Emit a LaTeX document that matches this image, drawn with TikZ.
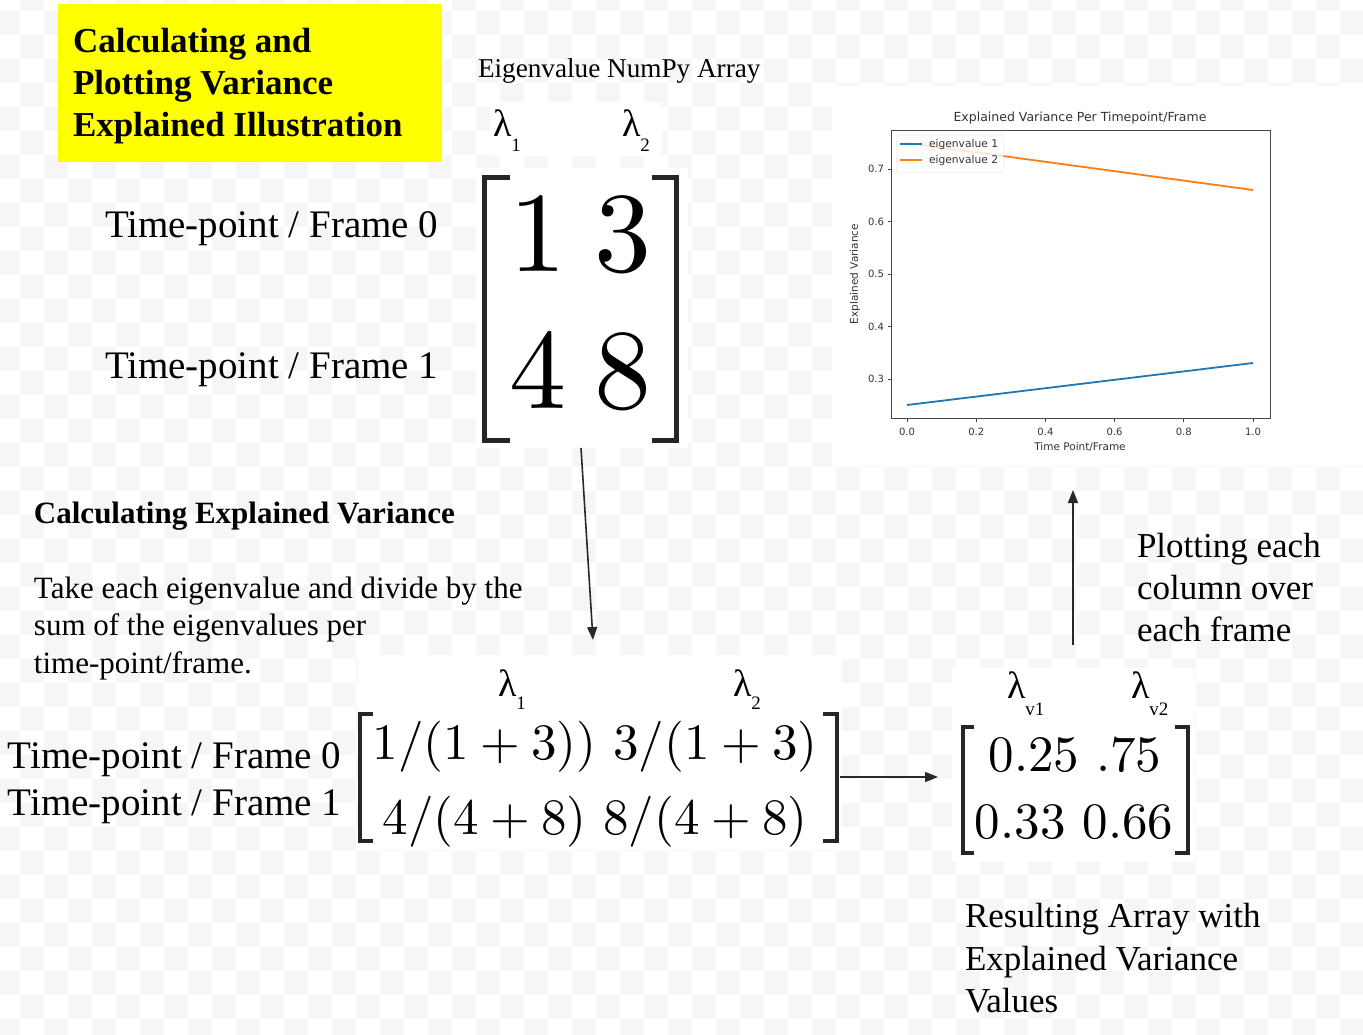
\documentclass[tikz,border=0pt]{standalone}
\usepackage{fontspec}
\newfontfamily\tnr{Liberation Serif}
\newfontfamily\dvs{DejaVu Sans}
\newfontfamily\cmten{lmroman10-regular.otf}
\usetikzlibrary{arrows.meta}
\definecolor{chk}{RGB}{246,246,246}
\definecolor{ttlyellow}{RGB}{255,255,0}
\definecolor{mplblue}{RGB}{31,119,180}
\definecolor{mplorange}{RGB}{255,127,14}
\definecolor{arrowgray}{RGB}{40,40,40}
\definecolor{axgray}{RGB}{70,70,70}
\newcommand\fs[1]{\fontsize{#1}{#1}\selectfont}
\newcommand\lamsub[2]{\tnr\fs{38}λ\raisebox{#1}{\fs{19}#2}}
\begin{document}
\begin{tikzpicture}[x=1pt,y=-1pt,
  txt/.style={inner sep=0pt, outer sep=0pt, anchor=base west, font=\tnr},
  mtx/.style={inner sep=0pt, outer sep=0pt, anchor=base},
  brk/.style={line width=5pt, line cap=butt, line join=miter, black!85},
  brks/.style={line width=4pt, line cap=butt, line join=miter, black!85},
  conn/.style={line width=1.6pt, arrowgray, -{Triangle[length=13pt,width=10pt]}},
  plt/.style={inner sep=0pt, outer sep=0pt, font=\dvs\fs{10}, text=black!80},
  pline/.style={line width=1.8pt, line cap=butt, opacity=1},
  whitebg/.style={fill=white}]
\useasboundingbox (0,0) rectangle (1363,1035);
\begin{scope}
\clip (0,0) rectangle (1363,1035);
\fill[white] (0,0) rectangle (1363,1035);
\foreach \i in {0,...,57}{
  \pgfmathtruncatemacro\ja{mod(\i+1,2)}
  \pgfmathtruncatemacro\jb{\ja+2}
  \foreach \j in {\ja,\jb,...,44}{
    \fill[chk] ({-4+24*\i},{-13+24*\j}) rectangle ++(24,24);
  }
}
\end{scope}
% white backgrounds of pasted images
\fill[whitebg] (832,86) rectangle (1363,466);
\fill[whitebg] (476,168) rectangle (688,448);
\fill[whitebg] (490,102) rectangle (662,156);
\fill[whitebg] (358,655) rectangle (842,850);
\fill[whitebg] (952,668) rectangle (1195,862);

% title
\node[fill=ttlyellow, minimum width=384pt, minimum height=158pt, anchor=north west, inner sep=0pt] (titlebox) at (58,4) {};
\node[txt, font=\tnr\bfseries\fs{35}] (title1) at (73,53) {Calculating and};
\node[txt, font=\tnr\bfseries\fs{35}] (title2) at (73,95) {Plotting Variance};
\node[txt, font=\tnr\bfseries\fs{35}] (title3) at (73,137) {Explained Illustration};

% eigenvalue array
\node[txt, font=\tnr\fs{27.2}] (eighead) at (478,78) {Eigenvalue NumPy Array};
\node[txt] (l1top) at (493,137) {\lamsub{-15pt}{1}};
\node[txt] (l2top) at (622,137) {\lamsub{-15pt}{2}};
\node[txt, font=\tnr\fs{39}] (tf0) at (105,238) {Time-point / Frame 0};
\node[txt, font=\tnr\fs{39}] (tf1) at (105,378) {Time-point / Frame 1};
\draw[brk] (510,177.5) -- (484,177.5) -- (484,440) -- (510,440);
\draw[brk] (652,177.5) -- (676,177.5) -- (676,440) -- (652,440);
\node[mtx, font=\cmten\fs{114}] (m11) at (538,272) {1};
\node[mtx, font=\cmten\fs{114}] (m12) at (623,272) {3};
\node[mtx, font=\cmten\fs{114}] (m21) at (538,408) {4};
\node[mtx, font=\cmten\fs{114}] (m22) at (623,408) {8};

% explanation
\node[txt, font=\tnr\bfseries\fs{31}] (calchead) at (34,523) {Calculating Explained Variance};
\node[txt, font=\tnr\fs{31}] (exp1) at (34,598) {Take each eigenvalue and divide by the};
\node[txt, font=\tnr\fs{31}] (exp2) at (34,635.5) {sum of the eigenvalues per};
\node[txt, font=\tnr\fs{31}] (exp3) at (34,673) {time-point/frame.};

% fraction matrix
\node[txt] (l1mid) at (498,696) {\lamsub{-13pt}{1}};
\node[txt] (l2mid) at (733,696) {\lamsub{-13pt}{2}};
\node[txt, font=\tnr\fs{39}] (tf0b) at (8,768) {Time-point / Frame 0};
\node[txt, font=\tnr\fs{39}] (tf1b) at (8,815) {Time-point / Frame 1};
\draw[brks] (373,714) -- (359.5,714) -- (359.5,841) -- (373,841);
\draw[brks] (823,714) -- (836.5,714) -- (836.5,841) -- (823,841);
\node[mtx, font=\cmten\fs{51}] (frow1) at (595,759) {1/(1\hspace{0.222em}+\hspace{0.222em}3)) 3/(1\hspace{0.222em}+\hspace{0.222em}3)};
\node[mtx, font=\cmten\fs{51}] (frow2) at (595,834) {4/(4\hspace{0.222em}+\hspace{0.222em}8) 8/(4\hspace{0.222em}+\hspace{0.222em}8)};

% result matrix
\node[txt] (lv1) at (1007,698) {\lamsub{-17pt}{v1}};
\node[txt] (lv2) at (1131,698) {\lamsub{-17pt}{v2}};
\draw[brks] (974,727) -- (962.5,727) -- (962.5,853) -- (974,853);
\draw[brks] (1175,727) -- (1187.5,727) -- (1187.5,853) -- (1175,853);
\node[mtx, font=\cmten\fs{51}] (rrow1) at (1075,771) {0.25 .75};
\node[mtx, font=\cmten\fs{51}] (rrow2) at (1074,838) {0.33 0.66};
\node[txt, font=\tnr\fs{35}] (res1) at (965,927) {Resulting Array with};
\node[txt, font=\tnr\fs{35}] (res2) at (965,970) {Explained Variance};
\node[txt, font=\tnr\fs{35}] (res3) at (965,1012) {Values};

% plotting label
\node[txt, font=\tnr\fs{35}] (plt1) at (1137,557) {Plotting each};
\node[txt, font=\tnr\fs{35}] (plt2) at (1137,599) {column over};
\node[txt, font=\tnr\fs{35}] (plt3) at (1137,641) {each frame};

% plot
\draw[pline, mplblue] (907,405) -- (1253,363);
\draw[pline, mplorange] (907,143) -- (1253,190);
\node[draw=black!12, fill=white, fill opacity=0.8, rounded corners=2pt, anchor=north west, minimum width=107pt, minimum height=37pt, inner sep=0pt] (legend) at (896,135) {};
\draw[pline, draw=mplblue] (900,144) -- (922,144);
\draw[pline, draw=mplorange] (900,160) -- (922,160);
\node[plt, anchor=base west, font=\dvs\fs{10.7}] (leg1) at (929,147.5) {eigenvalue 1};
\node[plt, anchor=base west, font=\dvs\fs{10.7}] (leg2) at (929,164) {eigenvalue 2};
\draw[axgray, line width=0.9pt] (891,130) rectangle (1270,418);
\foreach \t/\lab in {0/0.0,1/0.2,2/0.4,3/0.6,4/0.8,5/1.0}{
  \draw[axgray, line width=0.8pt] ({907+69.2*\t},418) -- ({907+69.2*\t},421.5);
  \node[plt, anchor=base] at ({907+69.2*\t},435) {\lab};
}
\foreach \v/\lab in {0/0.3,1/0.4,2/0.5,3/0.6,4/0.7}{
  \draw[axgray, line width=0.8pt] (891,{379-52.5*\v}) -- (887.5,{379-52.5*\v});
  \node[plt, anchor=east] at (884,{379-52.5*\v}) {\lab};
}
\node[plt, anchor=base, font=\dvs\fs{12.5}] (plottitle) at (1080,122) {Explained Variance Per Timepoint/Frame};
\node[plt, anchor=base, font=\dvs\fs{10.5}] (xlab) at (1080,450) {Time Point/Frame};
\node[plt, rotate=90, font=\dvs\fs{10.5}] (ylab) at (855,274) {Explained Variance};

% connectors
\coordinate (a1s) at (581,448);
\coordinate (a1e) at (593,640);
\coordinate (a2s) at (840,777);
\coordinate (a2e) at (938,777);
\coordinate (a3s) at (1073,645);
\coordinate (a3e) at (1073,490);
\draw[conn] (a1s) -- (a1e);
\draw[conn] (a2s) -- (a2e);
\draw[conn] (a3s) -- (a3e);
\end{tikzpicture}
\end{document}
